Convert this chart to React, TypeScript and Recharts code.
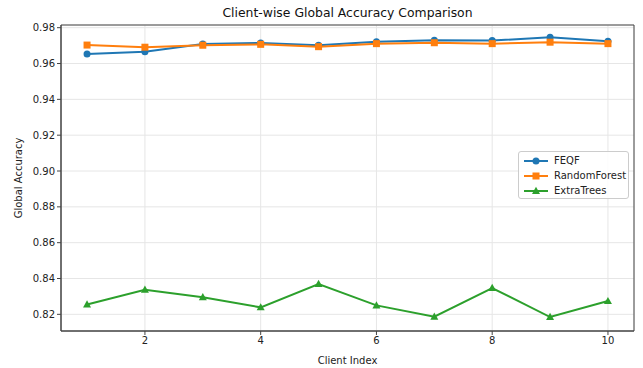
import {
  CartesianGrid,
  Line,
  LineChart,
  ReferenceArea,
  XAxis,
  YAxis,
} from "recharts";

const clients = [1, 2, 3, 4, 5, 6, 7, 8, 9, 10];
const feqf = [0.9653, 0.9666, 0.9709, 0.9715, 0.9702, 0.9722, 0.973, 0.9728, 0.9746, 0.9724];
const randomForest = [0.9703, 0.9691, 0.9702, 0.9707, 0.9694, 0.9711, 0.9716, 0.9711, 0.9719, 0.9711];
const extraTrees = [0.8255, 0.8337, 0.8295, 0.8239, 0.8369, 0.825, 0.8187, 0.8347, 0.8185, 0.8274];

const xTicks = [2, 4, 6, 8, 10];
const yTicks = [0.82, 0.84, 0.86, 0.88, 0.9, 0.92, 0.94, 0.96, 0.98];

const X_DOMAIN: [number, number] = [0.55, 10.45];
const Y_DOMAIN: [number, number] = [0.8107, 0.9815];

const FONT = "'DejaVu Sans', sans-serif";
const AXIS = "#444";

const data = clients.map((c, i) => ({
  client: c,
  FEQF: feqf[i],
  RandomForest: randomForest[i],
  ExtraTrees: extraTrees[i],
}));

type Marker = "circle" | "square" | "triangle";

const series: { key: string; color: string; marker: Marker }[] = [
  { key: "FEQF", color: "#1f77b4", marker: "circle" },
  { key: "RandomForest", color: "#ff7f0e", marker: "square" },
  { key: "ExtraTrees", color: "#2ca02c", marker: "triangle" },
];

function markerShape(marker: Marker, cx: number, cy: number, color: string, key?: string | number) {
  if (marker === "circle") return <circle key={key} cx={cx} cy={cy} r={3.5} fill={color} />;
  if (marker === "square")
    return <rect key={key} x={cx - 3.5} y={cy - 3.5} width={7} height={7} fill={color} />;
  return (
    <polygon
      key={key}
      points={`${cx},${cy - 4.2} ${cx - 4},${cy + 3} ${cx + 4},${cy + 3}`}
      fill={color}
    />
  );
}

function LegendBox() {
  return (
    <div
      style={{
        position: "absolute",
        left: 518,
        top: 151,
        width: 111,
        height: 48,
        boxSizing: "border-box",
        background: "rgba(255,255,255,0.85)",
        border: "1px solid #ccc",
        borderRadius: 3,
        padding: "1px 0 0 5px",
        fontFamily: FONT,
        fontSize: 10,
        color: "#222",
      }}
    >
      {series.map((s) => (
        <div key={s.key} style={{ display: "flex", alignItems: "center", height: 15 }}>
          <svg width={24} height={10} style={{ marginRight: 6 }}>
            <line x1={0} y1={5} x2={24} y2={5} stroke={s.color} strokeWidth={2} />
            {markerShape(s.marker, 12, 5, s.color)}
          </svg>
          <span>{s.key}</span>
        </div>
      ))}
    </div>
  );
}

export default function App() {
  return (
    <div style={{ position: "absolute", left: 0, top: 0, width: 643, height: 368, background: "#fff" }}>
      <div
        style={{
          position: "absolute",
          left: 61,
          width: 573,
          top: 5,
          textAlign: "center",
          fontFamily: FONT,
          fontSize: 12.4,
          lineHeight: "15px",
          color: "#111",
        }}
      >
        Client-wise Global Accuracy Comparison
      </div>
      <LineChart
        width={643}
        height={368}
        data={data}
        margin={{ top: 25, right: 9, bottom: 0, left: 0 }}
      >
        <CartesianGrid stroke="#e6e6e6" strokeWidth={1} />
        <XAxis
          dataKey="client"
          type="number"
          domain={X_DOMAIN}
          ticks={xTicks}
          allowDataOverflow
          height={37}
          tickSize={4}
          stroke={AXIS}
          tick={{ fontSize: 10, fontFamily: FONT, fill: "#222" }}
          label={() => (
            <text x={347.5} y={364} textAnchor="middle" fontSize={10} fontFamily={FONT} fill="#222">
              Client Index
            </text>
          )}
        />
        <YAxis
          type="number"
          domain={Y_DOMAIN}
          ticks={yTicks}
          allowDataOverflow
          width={61}
          tickSize={4}
          stroke={AXIS}
          tickFormatter={(v: number) => v.toFixed(2)}
          tick={{ fontSize: 10, fontFamily: FONT, fill: "#222" }}
          label={() => (
            <text
              x={22}
              y={178}
              transform="rotate(-90 22 178)"
              textAnchor="middle"
              fontSize={10}
              fontFamily={FONT}
              fill="#222"
            >
              Global Accuracy
            </text>
          )}
        />
        <ReferenceArea
          x1={X_DOMAIN[0]}
          x2={X_DOMAIN[1]}
          y1={Y_DOMAIN[0]}
          y2={Y_DOMAIN[1]}
          fill="none"
          stroke={AXIS}
          strokeWidth={1}
        />
        {series.map((s) => (
          <Line
            key={s.key}
            dataKey={s.key}
            type="linear"
            stroke={s.color}
            strokeWidth={2}
            isAnimationActive={false}
            dot={(p: any) => markerShape(s.marker, p.cx, p.cy, s.color, p.index)}
            activeDot={false}
          />
        ))}
      </LineChart>
      <LegendBox />
    </div>
  );
}
